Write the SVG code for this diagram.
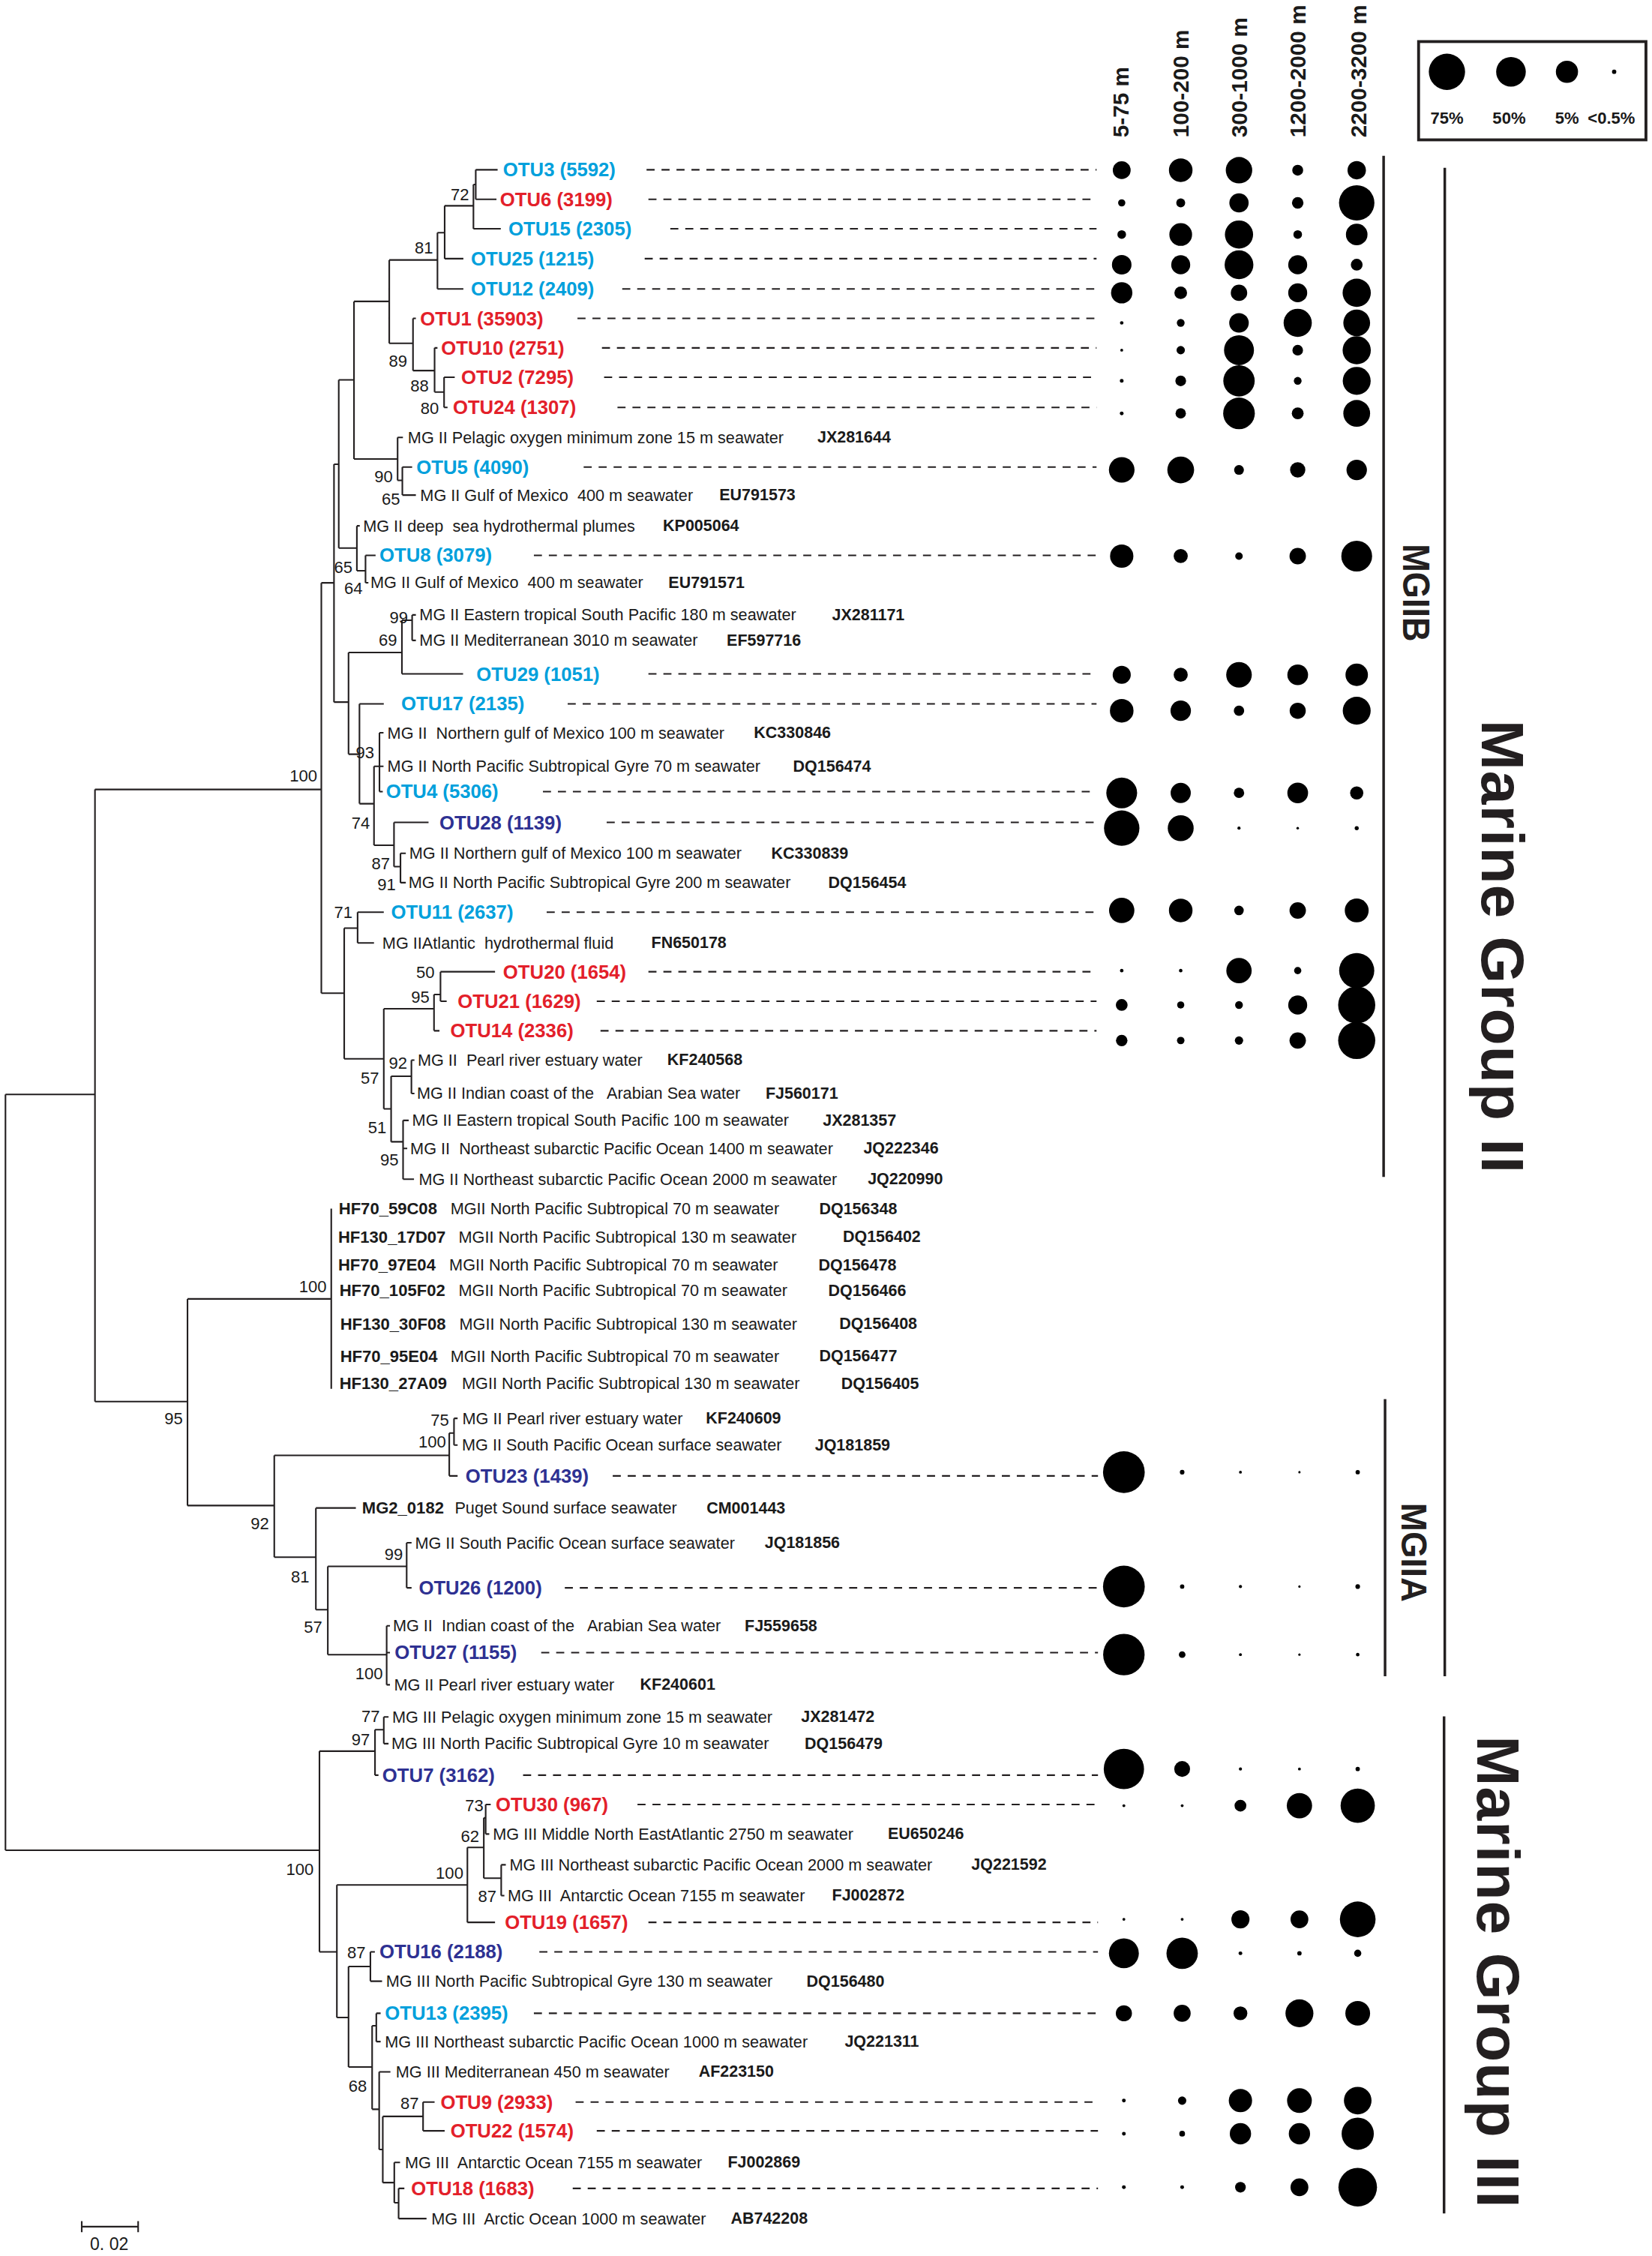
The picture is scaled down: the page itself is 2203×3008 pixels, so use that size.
<svg xmlns="http://www.w3.org/2000/svg" width="2203" height="3008" viewBox="0 0 2203 3008" xml:space="preserve">
<style>
text{font-family:"Liberation Sans",Arial,sans-serif;white-space:pre}
.otu{font-size:13.4px;font-weight:bold;dominant-baseline:central}
.c{fill:#00A0DC}.r{fill:#E3202A}.b{fill:#2E3192}
.d{font-size:11.3px;fill:#1a1a1a;dominant-baseline:central}
.acc{font-size:11.2px;font-weight:bold;fill:#1a1a1a;dominant-baseline:central}
.hf{font-size:11.5px;font-weight:bold;fill:#1a1a1a;dominant-baseline:central}
.bs{font-size:11.5px;fill:#1a1a1a;text-anchor:end}
.tree{fill:none;stroke:#231F20;stroke-width:1.1}
.dash{fill:none;stroke:#231F20;stroke-width:1.1;stroke-dasharray:5.6 4.8}
.bub circle{fill:#000}
.hdr{font-size:15.5px;font-weight:bold;fill:#1a1a1a}
.leg{font-size:11.5px;font-weight:bold;fill:#1a1a1a;text-anchor:middle}
.br{fill:none;stroke:#231F20;stroke-width:1.8}
.clade{font-weight:bold;fill:#231F20}
</style>
<rect width="2203" height="3008" fill="#fff"/>
<g transform="scale(1.91899 1.91837)">
<g id="connectors">
<path class="tree" d="M3.8 760.7V1286M3.8 760.7H66M3.8 1286H222
M66 548.7V974.1M66 548.7H223.3M66 974.1H130.3
M223.3 405.1V690.3M223.3 405.1H232.1M223.3 690.3H239.2
M232.1 322.7V488M232.1 322.7H235.4M232.1 488H242.2
M235.4 264V380.9M235.4 264H246M235.4 380.9H248
M246 209.5V319M246 209.5H270.5M246 319H276.3
M270.5 180.7V238.6M270.5 180.7H304M270.5 238.6H287
M304 161.7V200.8M304 161.7H309M304 200.8H322
M309 143V179.8M309 143H329M309 179.8H322
M329 128.2V159M329 128.2H330.6M329 159H348
M330.6 118V138.5M330.6 118H345.8M330.6 138.5H345
M287 221.3V257.6M287 221.3H289M287 257.6H302
M302 241.8V272.5M302 241.8H304M302 272.5H308.6
M308.6 262.2V283.2M308.6 262.2H316M308.6 283.2H311
M276.3 304V333.9M276.3 304H280M276.3 333.9H279.6
M279.6 324.6V344.1M279.6 324.6H286.4M279.6 344.1H289
M248 365.5V396.7M248 365.5H250M248 396.7H254
M254 386V405M254 386H261M254 405H256
M242.2 453.5V524.2M242.2 453.5H279.3M242.2 524.2H249.8
M279.3 431.1V468.4M279.3 431.1H286.4M279.3 468.4H321.8
M286.4 427.4V445.1M286.4 427.4H289M286.4 445.1H289
M249.8 489.2V558.6M249.8 489.2H266.7M249.8 558.6H259.9
M259.9 532.6V587.5M259.9 532.6H263.7M259.9 587.5H273.8
M263.7 509.3V550.2M263.7 509.3H266.5M263.7 532.6H266.5M263.7 550.2H266
M273.8 571.6V602.3M273.8 571.6H297.8M273.8 602.3H278.3
M278.3 593.1V613.5M278.3 593.1H282M278.3 613.5H282
M239.2 645.1V735.9M239.2 645.1H248.5M239.2 735.9H266.7
M248.5 634V655.4M248.5 634H266.7M248.5 655.4H259.9
M266.7 701.1V770.7M266.7 701.1H301.6M266.7 770.7H271.8
M301.6 691.2V716.4M301.6 691.2H306.1M301.6 716.4H305.4
M306.1 675.4V695.9M306.1 675.4H344M306.1 695.9H310.4
M271.8 748V793.6M271.8 748H285.9M271.8 793.6H280.1
M285.9 736.8V760M285.9 736.8H288M285.9 760H288
M280.1 778.7V819.6M280.1 778.7H284M280.1 798.2H283M280.1 819.6H287.7
M130.3 902.8V1046.4M130.3 902.8H230.2M130.3 1046.4H190.6
M230.2 840.1V965.3
M190.6 1011.5V1082.3M190.6 1011.5H312.2M190.6 1082.3H219.5
M312.2 996V1025.8M312.2 996H315.5M312.2 1025.8H318
M315.5 985.8V1004.4M315.5 985.8H318M315.5 1004.4H318
M219.5 1048.1V1118.8M219.5 1048.1H247.3M219.5 1118.8H227.8
M227.8 1088.7V1150.1M227.8 1088.7H282.6M227.8 1150.1H268.7
M282.6 1072.3V1103.6M282.6 1072.3H286M282.6 1103.6H286
M268.7 1130V1171M268.7 1130H271M268.7 1148.6H271M268.7 1171H271
M222 1217.1V1356.6M222 1217.1H260.6M222 1356.6H234.1
M260.6 1202.2V1233.8M260.6 1202.2H266.7M260.6 1233.8H263
M266.7 1193.3V1211.9M266.7 1193.3H270M266.7 1211.9H270
M234.1 1310.1V1402.2M234.1 1310.1H324.8M234.1 1402.2H242.2
M324.8 1284V1336.1M324.8 1284H336.2M324.8 1336.1H344
M336.2 1263.5V1305.4M336.2 1263.5H337.5M336.2 1305.4H348.3
M337.5 1254.2V1274.7M337.5 1254.2H341M337.5 1274.7H340
M348.3 1296.1V1317.5M348.3 1296.1H351.5M348.3 1317.5H350.5
M242.2 1366.8V1436.6M242.2 1366.8H257.4M242.2 1436.6H258.6
M257.4 1356.6V1377M257.4 1356.6H260.5M257.4 1377H265.5
M258.6 1408V1466M258.6 1408H261.5M258.6 1466H263.5
M261.5 1399.3V1419M261.5 1399.3H264.5M261.5 1419H264.5
M263.5 1440V1494M263.5 1440H271.3M263.5 1494H266
M266 1471V1517M266 1471H294M266 1517H274
M294 1461V1481M294 1461H302M294 1481H309
M274 1503V1531M274 1503H278M274 1531H277
M277 1521V1542M277 1521H281M277 1542H296.4"/>
<path class="dash" d="M449.3 118H762M450.6 138.5H762M465.8 159H762M448 179.8H762M432.4 200.8H762M401.3 221.3H762M418.3 241.8H762M419.8 262.2H762M429.1 283.2H762M405.6 324.6H762M371 386H762M450.6 468.4H762M394.5 489.2H762M377.3 550.2H762M421.6 571.6H762M379.9 634H762M450.6 675.4H762M414.7 695.9H762M417.3 716.4H762M425.8 1025.8H763M392.5 1103.6H763M376.1 1148.6H763M363.5 1233.8H763M443 1254.2H763M450.6 1336.1H763M374.8 1356.6H763M371 1399.3H763M400 1461H763M414.7 1481H763M398 1521H763"/>
</g>
<g id="bootstrap">
<text class="bs" x="326" y="139">72</text>
<text class="bs" x="301" y="176">81</text>
<text class="bs" x="283" y="255">89</text>
<text class="bs" x="298" y="272">88</text>
<text class="bs" x="305" y="288">80</text>
<text class="bs" x="273" y="335">90</text>
<text class="bs" x="278" y="351">65</text>
<text class="bs" x="245" y="398">65</text>
<text class="bs" x="252" y="413">64</text>
<text class="bs" x="283.5" y="433">99</text>
<text class="bs" x="276" y="449">69</text>
<text class="bs" x="260" y="527">93</text>
<text class="bs" x="257" y="576">74</text>
<text class="bs" x="271" y="604">87</text>
<text class="bs" x="275" y="619">91</text>
<text class="bs" x="220.5" y="543">100</text>
<text class="bs" x="245" y="638">71</text>
<text class="bs" x="302" y="680">50</text>
<text class="bs" x="298.5" y="697">95</text>
<text class="bs" x="263.5" y="753">57</text>
<text class="bs" x="283" y="743">92</text>
<text class="bs" x="268.5" y="787.5">51</text>
<text class="bs" x="277" y="810">95</text>
<text class="bs" x="227" y="898">100</text>
<text class="bs" x="127" y="990">95</text>
<text class="bs" x="312" y="991">75</text>
<text class="bs" x="310" y="1006">100</text>
<text class="bs" x="187" y="1063">92</text>
<text class="bs" x="215" y="1100">81</text>
<text class="bs" x="280" y="1084">99</text>
<text class="bs" x="224" y="1135">57</text>
<text class="bs" x="266" y="1167">100</text>
<text class="bs" x="264" y="1197">77</text>
<text class="bs" x="257" y="1213">97</text>
<text class="bs" x="218" y="1303">100</text>
<text class="bs" x="336" y="1259">73</text>
<text class="bs" x="333" y="1280">62</text>
<text class="bs" x="322" y="1306">100</text>
<text class="bs" x="345" y="1322">87</text>
<text class="bs" x="254" y="1361">87</text>
<text class="bs" x="255" y="1454">68</text>
<text class="bs" x="291" y="1466">87</text>
</g>
<g id="headers">
<text class="hdr" transform="translate(784.2 95.5) rotate(-90)">5-75 m</text>
<text class="hdr" transform="translate(825.8 95.5) rotate(-90)">100-200 m</text>
<text class="hdr" transform="translate(866.8 95.5) rotate(-90)">300-1000 m</text>
<text class="hdr" transform="translate(907.3 95.5) rotate(-90)">1200-2000 m</text>
<text class="hdr" transform="translate(949.4 95.5) rotate(-90)">2200-3200 m</text>
</g>
<g id="legend">
<rect x="985.8" y="28.9" width="158" height="68.3" fill="none" stroke="#231F20" stroke-width="2"/>
<g class="bub"><circle cx="1005.5" cy="49.9" r="12.6"/><circle cx="1050" cy="49.9" r="10.3"/><circle cx="1088.9" cy="49.9" r="7.7"/><circle cx="1121.7" cy="49.9" r="1.5"/></g>
<text class="leg" x="1005.5" y="86">75%</text>
<text class="leg" x="1048.7" y="86">50%</text>
<text class="leg" x="1088.9" y="86">5%</text>
<text class="leg" x="1119.8" y="86">&lt;0.5%</text>
</g>
<g id="clades">
<path class="br" d="M961.5 108.3V818M1004 116.7V1165M962.5 972.4V1165M1003.5 1193V1538.4"/>
<text class="clade" font-size="26" textLength="68" lengthAdjust="spacingAndGlyphs" transform="translate(975 378) rotate(90)">MGIIB</text>
<text class="clade" font-size="25" textLength="69" lengthAdjust="spacingAndGlyphs" transform="translate(974 1044.5) rotate(90)">MGIIA</text>
<text class="clade" font-size="42" textLength="315" transform="translate(1029.5 500.3) rotate(90)">Marine Group II</text>
<text class="clade" font-size="42" textLength="328" transform="translate(1026.8 1206.4) rotate(90)">Marine Group III</text>
</g>
<g id="scalebar">
<path class="tree" d="M56.8 1547.6H96M56.8 1543.7V1551.5M96 1543.7V1551.5"/>
<text x="75.9" y="1563.8" font-size="12" text-anchor="middle" fill="#1a1a1a">0. 02</text>
</g>
<g id="leaves">
<g id="OTU3"><text class="otu c" x="349.6" y="118">OTU3 (5592)</text><g class="bub"><circle cx="779.5" cy="118.3" r="6.2"/><circle cx="820.5" cy="118.3" r="8.2"/><circle cx="861" cy="118.3" r="9.2"/><circle cx="901.8" cy="118.3" r="3.8"/><circle cx="942.8" cy="118.3" r="6.4"/></g></g>
<g id="OTU6"><text class="otu r" x="347.5" y="138.5">OTU6 (3199)</text><g class="bub"><circle cx="779.5" cy="141" r="2.5"/><circle cx="820.5" cy="141" r="3.1"/><circle cx="861" cy="141" r="6.7"/><circle cx="901.8" cy="141" r="4"/><circle cx="942.8" cy="141" r="12.3"/></g></g>
<g id="OTU15"><text class="otu c" x="353.3" y="159">OTU15 (2305)</text><g class="bub"><circle cx="779.5" cy="163" r="3"/><circle cx="820.5" cy="163" r="7.9"/><circle cx="861" cy="163" r="9.8"/><circle cx="901.8" cy="163" r="3"/><circle cx="942.8" cy="163" r="7.5"/></g></g>
<g id="OTU25"><text class="otu c" x="327.3" y="179.8">OTU25 (1215)</text><g class="bub"><circle cx="779.5" cy="184" r="6.8"/><circle cx="820.5" cy="184" r="6.6"/><circle cx="861" cy="184" r="10"/><circle cx="901.8" cy="184" r="6.6"/><circle cx="942.8" cy="184" r="4.1"/></g></g>
<g id="OTU12"><text class="otu c" x="327.3" y="200.8">OTU12 (2409)</text><g class="bub"><circle cx="779.5" cy="203.5" r="7.4"/><circle cx="820.5" cy="203.5" r="4.4"/><circle cx="861" cy="203.5" r="5.7"/><circle cx="901.8" cy="203.5" r="6.6"/><circle cx="942.8" cy="203.5" r="9.8"/></g></g>
<g id="OTU1"><text class="otu r" x="292" y="221.3">OTU1 (35903)</text><g class="bub"><circle cx="779.5" cy="224.4" r="1.2"/><circle cx="820.5" cy="224.4" r="2.7"/><circle cx="861" cy="224.4" r="6.8"/><circle cx="901.8" cy="224.4" r="9.8"/><circle cx="942.8" cy="224.4" r="9.3"/></g></g>
<g id="OTU10"><text class="otu r" x="306.6" y="241.8">OTU10 (2751)</text><g class="bub"><circle cx="779.5" cy="243.4" r="1"/><circle cx="820.5" cy="243.4" r="2.9"/><circle cx="861" cy="243.4" r="10.4"/><circle cx="901.8" cy="243.4" r="3.7"/><circle cx="942.8" cy="243.4" r="9.8"/></g></g>
<g id="OTU2"><text class="otu r" x="320.5" y="262.2">OTU2 (7295)</text><g class="bub"><circle cx="779.5" cy="264.7" r="1.3"/><circle cx="820.5" cy="264.7" r="3.7"/><circle cx="861" cy="264.7" r="10.9"/><circle cx="901.8" cy="264.7" r="2.7"/><circle cx="942.8" cy="264.7" r="9.7"/></g></g>
<g id="OTU24"><text class="otu r" x="314.7" y="283.2">OTU24 (1307)</text><g class="bub"><circle cx="779.5" cy="287.3" r="1.3"/><circle cx="820.5" cy="287.3" r="3.6"/><circle cx="861" cy="287.3" r="11"/><circle cx="901.8" cy="287.3" r="4.1"/><circle cx="942.8" cy="287.3" r="9.3"/></g></g>
<g id="JX281644"><text class="d" x="283.4" y="304">MG II Pelagic oxygen minimum zone 15 m seawater</text><text class="acc" x="568" y="304">JX281644</text></g>
<g id="OTU5"><text class="otu c" x="289.4" y="324.6">OTU5 (4090)</text><g class="bub"><circle cx="779.5" cy="326.6" r="8.9"/><circle cx="820.5" cy="326.6" r="9.3"/><circle cx="861" cy="326.6" r="3.4"/><circle cx="901.8" cy="326.6" r="5.3"/><circle cx="942.8" cy="326.6" r="7.1"/></g></g>
<g id="EU791573"><text class="d" x="292" y="344.1">MG II Gulf of Mexico  400 m seawater</text><text class="acc" x="499.9" y="344.1">EU791573</text></g>
<g id="KP005064"><text class="d" x="252.3" y="365.5">MG II deep  sea hydrothermal plumes</text><text class="acc" x="460.7" y="365.5">KP005064</text></g>
<g id="OTU8"><text class="otu c" x="263.7" y="386">OTU8 (3079)</text><g class="bub"><circle cx="779.5" cy="386.5" r="8.1"/><circle cx="820.5" cy="386.5" r="4.9"/><circle cx="861" cy="386.5" r="2.6"/><circle cx="901.8" cy="386.5" r="5.7"/><circle cx="942.8" cy="386.5" r="10.7"/></g></g>
<g id="EU791571"><text class="d" x="257.4" y="405">MG II Gulf of Mexico  400 m seawater</text><text class="acc" x="464.5" y="405">EU791571</text></g>
<g id="JX281171"><text class="d" x="291.5" y="427.4">MG II Eastern tropical South Pacific 180 m seawater</text><text class="acc" x="578.2" y="427.4">JX281171</text></g>
<g id="EF597716"><text class="d" x="291.5" y="445.1">MG II Mediterranean 3010 m seawater</text><text class="acc" x="505" y="445.1">EF597716</text></g>
<g id="OTU29"><text class="otu c" x="331.1" y="468.4">OTU29 (1051)</text><g class="bub"><circle cx="779.5" cy="469" r="6.3"/><circle cx="820.5" cy="469" r="4.9"/><circle cx="861" cy="469" r="8.9"/><circle cx="901.8" cy="469" r="7.2"/><circle cx="942.8" cy="469" r="7.8"/></g></g>
<g id="OTU17"><text class="otu c" x="278.8" y="489.2">OTU17 (2135)</text><g class="bub"><circle cx="779.5" cy="494" r="8.2"/><circle cx="820.5" cy="494" r="7.1"/><circle cx="861" cy="494" r="3.6"/><circle cx="901.8" cy="494" r="5.6"/><circle cx="942.8" cy="494" r="9.7"/></g></g>
<g id="KC330846"><text class="d" x="269.2" y="509.3">MG II  Northern gulf of Mexico 100 m seawater</text><text class="acc" x="523.9" y="509.3">KC330846</text></g>
<g id="DQ156474"><text class="d" x="269.2" y="532.6">MG II North Pacific Subtropical Gyre 70 m seawater</text><text class="acc" x="551.1" y="532.6">DQ156474</text></g>
<g id="OTU4"><text class="otu c" x="268.2" y="550.2">OTU4 (5306)</text><g class="bub"><circle cx="779.5" cy="551.1" r="10.7"/><circle cx="820.5" cy="551.1" r="7"/><circle cx="861" cy="551.1" r="3.6"/><circle cx="901.8" cy="551.1" r="7.2"/><circle cx="942.8" cy="551.1" r="4.6"/></g></g>
<g id="OTU28"><text class="otu b" x="305.4" y="571.6">OTU28 (1139)</text><g class="bub"><circle cx="779.5" cy="575.6" r="12.3"/><circle cx="820.5" cy="575.6" r="9"/><circle cx="861" cy="575.6" r="1.1"/><circle cx="901.8" cy="575.6" r="0.9"/><circle cx="942.8" cy="575.6" r="1.4"/></g></g>
<g id="KC330839"><text class="d" x="284.4" y="593.1">MG II Northern gulf of Mexico 100 m seawater</text><text class="acc" x="536" y="593.1">KC330839</text></g>
<g id="DQ156454"><text class="d" x="283.9" y="613.5">MG II North Pacific Subtropical Gyre 200 m seawater</text><text class="acc" x="575.6" y="613.5">DQ156454</text></g>
<g id="OTU11"><text class="otu c" x="271.8" y="634">OTU11 (2637)</text><g class="bub"><circle cx="779.5" cy="632.8" r="8.8"/><circle cx="820.5" cy="632.8" r="8.2"/><circle cx="861" cy="632.8" r="3.3"/><circle cx="901.8" cy="632.8" r="5.7"/><circle cx="942.8" cy="632.8" r="8.3"/></g></g>
<g id="FN650178"><text class="d" x="265.7" y="655.4">MG IIAtlantic  hydrothermal fluid</text><text class="acc" x="452.6" y="655.4">FN650178</text></g>
<g id="OTU20"><text class="otu r" x="349.6" y="675.4">OTU20 (1654)</text><g class="bub"><circle cx="779.5" cy="674.6" r="1.2"/><circle cx="820.5" cy="674.6" r="1.2"/><circle cx="861" cy="674.6" r="8.8"/><circle cx="901.8" cy="674.6" r="2.5"/><circle cx="942.8" cy="674.6" r="12.2"/></g></g>
<g id="OTU21"><text class="otu r" x="318" y="695.9">OTU21 (1629)</text><g class="bub"><circle cx="779.5" cy="698.5" r="4.1"/><circle cx="820.5" cy="698.5" r="2.5"/><circle cx="861" cy="698.5" r="2.7"/><circle cx="901.8" cy="698.5" r="6.6"/><circle cx="942.8" cy="698.5" r="12.9"/></g></g>
<g id="OTU14"><text class="otu r" x="312.9" y="716.4">OTU14 (2336)</text><g class="bub"><circle cx="779.5" cy="723.2" r="4"/><circle cx="820.5" cy="723.2" r="2.6"/><circle cx="861" cy="723.2" r="2.9"/><circle cx="901.8" cy="723.2" r="5.7"/><circle cx="942.8" cy="723.2" r="12.9"/></g></g>
<g id="KF240568"><text class="d" x="290.2" y="736.8">MG II  Pearl river estuary water</text><text class="acc" x="463.7" y="736.8">KF240568</text></g>
<g id="FJ560171"><text class="d" x="289.7" y="760">MG II Indian coast of the   Arabian Sea water</text><text class="acc" x="532" y="760">FJ560171</text></g>
<g id="JX281357"><text class="d" x="286.4" y="778.7">MG II Eastern tropical South Pacific 100 m seawater</text><text class="acc" x="571.8" y="778.7">JX281357</text></g>
<g id="JQ222346"><text class="d" x="285.1" y="798.2">MG II  Northeast subarctic Pacific Ocean 1400 m seawater</text><text class="acc" x="600" y="798.2">JQ222346</text></g>
<g id="JQ220990"><text class="d" x="291" y="819.6">MG II Northeast subarctic Pacific Ocean 2000 m seawater</text><text class="acc" x="603" y="819.6">JQ220990</text></g>
<g id="DQ156348"><text class="hf" x="235.4" y="840.1">HF70_59C08</text><text class="d" x="313" y="840.1">MGII North Pacific Subtropical 70 m seawater</text><text class="acc" x="569.3" y="840.1">DQ156348</text></g>
<g id="DQ156402"><text class="hf" x="235" y="859.6">HF130_17D07</text><text class="d" x="318.7" y="859.6">MGII North Pacific Subtropical 130 m seawater</text><text class="acc" x="585.7" y="859.6">DQ156402</text></g>
<g id="DQ156478"><text class="hf" x="235" y="879.2">HF70_97E04</text><text class="d" x="312.2" y="879.2">MGII North Pacific Subtropical 70 m seawater</text><text class="acc" x="568.8" y="879.2">DQ156478</text></g>
<g id="DQ156466"><text class="hf" x="235.9" y="896.9">HF70_105F02</text><text class="d" x="318.7" y="896.9">MGII North Pacific Subtropical 70 m seawater</text><text class="acc" x="575.6" y="896.9">DQ156466</text></g>
<g id="DQ156408"><text class="hf" x="236.4" y="920.1">HF130_30F08</text><text class="d" x="319.2" y="920.1">MGII North Pacific Subtropical 130 m seawater</text><text class="acc" x="583.2" y="920.1">DQ156408</text></g>
<g id="DQ156477"><text class="hf" x="236.4" y="942.5">HF70_95E04</text><text class="d" x="313" y="942.5">MGII North Pacific Subtropical 70 m seawater</text><text class="acc" x="569.3" y="942.5">DQ156477</text></g>
<g id="DQ156405"><text class="hf" x="235.9" y="961.6">HF130_27A09</text><text class="d" x="321" y="961.6">MGII North Pacific Subtropical 130 m seawater</text><text class="acc" x="584.5" y="961.6">DQ156405</text></g>
<g id="KF240609"><text class="d" x="321.3" y="985.8">MG II Pearl river estuary water</text><text class="acc" x="490.5" y="985.8">KF240609</text></g>
<g id="JQ181859"><text class="d" x="321" y="1004.4">MG II South Pacific Ocean surface seawater</text><text class="acc" x="566.3" y="1004.4">JQ181859</text></g>
<g id="OTU23"><text class="otu b" x="323.5" y="1025.8">OTU23 (1439)</text><g class="bub"><circle cx="781" cy="1023.2" r="14.5"/><circle cx="821.5" cy="1023.2" r="1.6"/><circle cx="862" cy="1023.2" r="1"/><circle cx="903" cy="1023.2" r="0.8"/><circle cx="943.5" cy="1023.2" r="1.5"/></g></g>
<g id="CM001443"><text class="hf" x="251.6" y="1048.1">MG2_0182</text><text class="d" x="316" y="1048.1">Puget Sound surface seawater</text><text class="acc" x="491" y="1048.1">CM001443</text></g>
<g id="JQ181856"><text class="d" x="288.4" y="1072.3">MG II South Pacific Ocean surface seawater</text><text class="acc" x="531.4" y="1072.3">JQ181856</text></g>
<g id="OTU26"><text class="otu b" x="291" y="1103.6">OTU26 (1200)</text><g class="bub"><circle cx="781" cy="1102.7" r="14.5"/><circle cx="821.5" cy="1102.7" r="1.5"/><circle cx="862" cy="1102.7" r="1.1"/><circle cx="903" cy="1102.7" r="0.8"/><circle cx="943.5" cy="1102.7" r="1.6"/></g></g>
<g id="FJ559658"><text class="d" x="273" y="1130">MG II  Indian coast of the   Arabian Sea water</text><text class="acc" x="517.5" y="1130">FJ559658</text></g>
<g id="OTU27"><text class="otu b" x="274.3" y="1148.6">OTU27 (1155)</text><g class="bub"><circle cx="781" cy="1150" r="14.4"/><circle cx="821.5" cy="1150" r="2.3"/><circle cx="862" cy="1150" r="1"/><circle cx="903" cy="1150" r="0.8"/><circle cx="943.5" cy="1150" r="1.2"/></g></g>
<g id="KF240601"><text class="d" x="273.8" y="1171">MG II Pearl river estuary water</text><text class="acc" x="444.8" y="1171">KF240601</text></g>
<g id="JX281472"><text class="d" x="272.5" y="1193.3">MG III Pelagic oxygen minimum zone 15 m seawater</text><text class="acc" x="556.7" y="1193.3">JX281472</text></g>
<g id="DQ156479"><text class="d" x="272" y="1211.9">MG III North Pacific Subtropical Gyre 10 m seawater</text><text class="acc" x="559.2" y="1211.9">DQ156479</text></g>
<g id="OTU7"><text class="otu b" x="265.7" y="1233.8">OTU7 (3162)</text><g class="bub"><circle cx="781" cy="1229.5" r="14"/><circle cx="821.5" cy="1229.5" r="5.5"/><circle cx="862" cy="1229.5" r="1.1"/><circle cx="903" cy="1229.5" r="1"/><circle cx="943.5" cy="1229.5" r="1.5"/></g></g>
<g id="OTU30"><text class="otu r" x="344.5" y="1254.2">OTU30 (967)</text><g class="bub"><circle cx="781" cy="1255" r="1"/><circle cx="821.5" cy="1255" r="1"/><circle cx="862" cy="1255" r="4.1"/><circle cx="903" cy="1255" r="8.8"/><circle cx="943.5" cy="1255" r="11.9"/></g></g>
<g id="EU650246"><text class="d" x="342.5" y="1274.7">MG III Middle North EastAtlantic 2750 m seawater</text><text class="acc" x="617" y="1274.7">EU650246</text></g>
<g id="JQ221592"><text class="d" x="354.1" y="1296.1">MG III Northeast subarctic Pacific Ocean 2000 m seawater</text><text class="acc" x="675" y="1296.1">JQ221592</text></g>
<g id="FJ002872"><text class="d" x="352.8" y="1317.5">MG III  Antarctic Ocean 7155 m seawater</text><text class="acc" x="578.2" y="1317.5">FJ002872</text></g>
<g id="OTU19"><text class="otu r" x="350.8" y="1336.1">OTU19 (1657)</text><g class="bub"><circle cx="781" cy="1334" r="1"/><circle cx="821.5" cy="1334" r="1"/><circle cx="862" cy="1334" r="6.3"/><circle cx="903" cy="1334" r="6.2"/><circle cx="943.5" cy="1334" r="12.4"/></g></g>
<g id="OTU16"><text class="otu b" x="263.7" y="1356.6">OTU16 (2188)</text><g class="bub"><circle cx="781" cy="1357.6" r="10.4"/><circle cx="821.5" cy="1357.6" r="10.9"/><circle cx="862" cy="1357.6" r="1.3"/><circle cx="903" cy="1357.6" r="1.5"/><circle cx="943.5" cy="1357.6" r="2.5"/></g></g>
<g id="DQ156480"><text class="d" x="268.2" y="1377">MG III North Pacific Subtropical Gyre 130 m seawater</text><text class="acc" x="560.5" y="1377">DQ156480</text></g>
<g id="OTU13"><text class="otu c" x="267.5" y="1399.3">OTU13 (2395)</text><g class="bub"><circle cx="781" cy="1399.3" r="5.6"/><circle cx="821.5" cy="1399.3" r="5.9"/><circle cx="862" cy="1399.3" r="4.8"/><circle cx="903" cy="1399.3" r="9.7"/><circle cx="943.5" cy="1399.3" r="8.6"/></g></g>
<g id="JQ221311"><text class="d" x="267.5" y="1419">MG III Northeast subarctic Pacific Ocean 1000 m seawater</text><text class="acc" x="587" y="1419">JQ221311</text></g>
<g id="AF223150"><text class="d" x="275" y="1440">MG III Mediterranean 450 m seawater</text><text class="acc" x="485.5" y="1440">AF223150</text></g>
<g id="OTU9"><text class="otu r" x="306.1" y="1461">OTU9 (2933)</text><g class="bub"><circle cx="781" cy="1460" r="1.3"/><circle cx="821.5" cy="1460" r="2.9"/><circle cx="862" cy="1460" r="8.1"/><circle cx="903" cy="1460" r="8.6"/><circle cx="943.5" cy="1460" r="9.6"/></g></g>
<g id="OTU22"><text class="otu r" x="313" y="1481">OTU22 (1574)</text><g class="bub"><circle cx="781" cy="1483" r="1.3"/><circle cx="821.5" cy="1483" r="2"/><circle cx="862" cy="1483" r="7.4"/><circle cx="903" cy="1483" r="7.4"/><circle cx="943.5" cy="1483" r="11.2"/></g></g>
<g id="FJ002869"><text class="d" x="281.4" y="1503">MG III  Antarctic Ocean 7155 m seawater</text><text class="acc" x="505.7" y="1503">FJ002869</text></g>
<g id="OTU18"><text class="otu r" x="285.7" y="1521">OTU18 (1683)</text><g class="bub"><circle cx="781" cy="1520.2" r="1.3"/><circle cx="821.5" cy="1520.2" r="1.3"/><circle cx="862" cy="1520.2" r="3.7"/><circle cx="903" cy="1520.2" r="6.2"/><circle cx="943.5" cy="1520.2" r="13.4"/></g></g>
<g id="AB742208"><text class="d" x="299.8" y="1542">MG III  Arctic Ocean 1000 m seawater</text><text class="acc" x="507.8" y="1542">AB742208</text></g>
</g>
</g>
</svg>
